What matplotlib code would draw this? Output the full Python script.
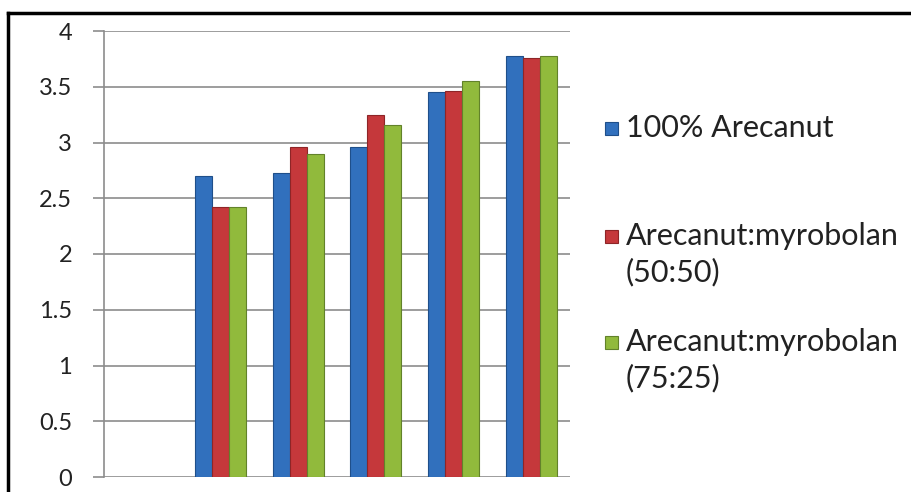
import matplotlib.pyplot as plt
import numpy as np
from matplotlib.lines import Line2D
from matplotlib.patches import Rectangle

plt.rcParams['font.family'] = ['Lato', 'DejaVu Sans']

# six category slots, the first one is empty in the original
categories = ['', '1', '2', '3', '4', '5']
arecanut = [np.nan, 2.70, 2.73, 2.96, 3.45, 3.78]
mix_50 = [np.nan, 2.42, 2.96, 3.25, 3.46, 3.76]
mix_75 = [np.nan, 2.42, 2.90, 3.16, 3.55, 3.78]
labels = ['100% Arecanut', 'Arecanut:myrobolan\n(50:50)', 'Arecanut:myrobolan\n(75:25)']
colors = ['#3170bd', '#c5383b', '#91ba3c']
edges = ['#1f4f8a', '#8e2527', '#62822a']

W, H = 912, 492
fig = plt.figure(figsize=(W / 100, H / 100), dpi=100)
ax = fig.add_axes([104 / W, 15 / H, 466 / W, 446 / H])

x = np.arange(len(categories))
w = 0.22
for i, (vals, c, ec, lab) in enumerate(zip([arecanut, mix_50, mix_75], colors, edges, labels)):
    ax.bar(x + (i - 1) * w, vals, w, color=c, edgecolor=ec, linewidth=0.8, label=lab, zorder=3)

ax.set_xlim(-0.5, len(categories) - 0.5)
ax.set_ylim(0, 4)
ax.set_yticks(np.arange(0, 4.01, 0.5))
ax.set_yticklabels(['0', '0.5', '1', '1.5', '2', '2.5', '3', '3.5', '4'])
ax.set_xticks([])
ax.grid(axis='y', color='#8c8c8c', linewidth=1.2, zorder=0)
ax.tick_params(axis='y', length=8, color='#8c8c8c', width=1.2, labelsize=17, labelcolor='#222222', pad=15)
for s in ['top', 'right', 'bottom']:
    ax.spines[s].set_visible(False)
ax.spines['left'].set_color('#8c8c8c')
ax.spines['left'].set_linewidth(1.2)

# legend drawn by hand: Excel style, marker aligned with the first text line
entry_y = [128, 236, 342]  # pixel rows (from top) of each entry's first line
for lab, c, ec, yp in zip(labels, colors, edges, entry_y):
    fig.add_artist(Rectangle((605 / W, 1 - (yp + 7) / H), 13 / W, 13 / H,
                             facecolor=c, edgecolor=ec, linewidth=0.8, transform=fig.transFigure))
    for k, line in enumerate(lab.split('\n')):
        fig.text(626 / W, 1 - (yp + 36 * k) / H, line, fontsize=22, color='#222222',
                 ha='left', va='center')

# outer frame of the original picture (left and top edges)
fig.add_artist(Line2D([0.009, 0.009], [0, 0.974], color='black', linewidth=2.5))
fig.add_artist(Line2D([0.009, 1.0], [0.974, 0.974], color='black', linewidth=2.5))

fig.savefig('out.png', dpi=100)
